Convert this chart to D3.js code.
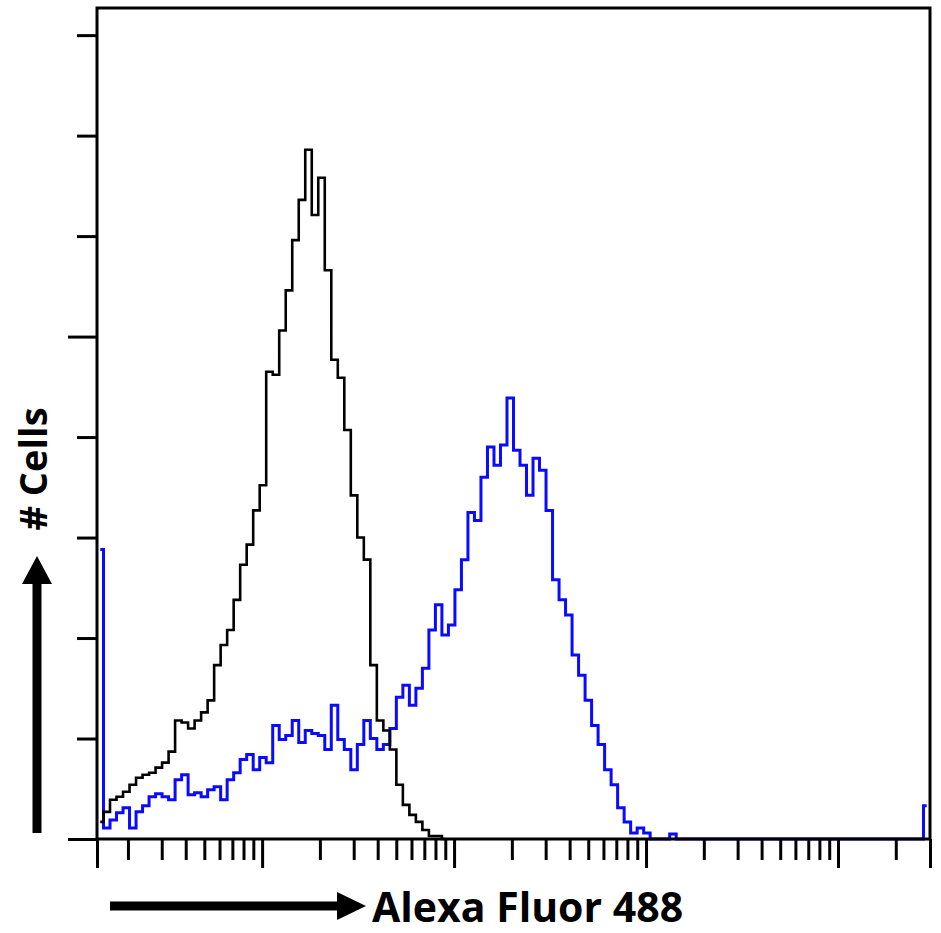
<!DOCTYPE html>
<html>
<head>
<meta charset="utf-8">
<script src="https://cdn.jsdelivr.net/npm/d3@7"></script>
<style>
  body { margin: 0; background: #fff; }
  svg { display: block; }
</style>
</head>
<body>
<div id="chart"></div>
<script>
// histogram, 128 channels spread over the log axis
const channelCount = 128;
const fluorDomain = [1.38, 30150];
const countMax = 827;
const minorCountTicks = [100, 200, 300, 400, 600, 700, 800];
const majorCountTicks = [0, 500];
const majorFluorTicks = [1.38, 10, 100, 1000, 10000, 30150];

const xLabel = "Alexa Fluor 488";
const yLabel = "# Cells";

// control (black)
const controlCounts = [
  17, 27, 39, 42, 47, 54, 61, 64, 66, 71,
  76, 87, 118, 116, 110, 118, 126, 138, 173, 193,
  208, 238, 273, 293, 327, 352, 465, 462, 506, 546,
  596, 636, 686, 621, 658, 566, 477, 459, 407, 342,
  300, 278, 173, 118, 108, 89, 54, 34, 24, 17,
  9, 3, 3, 0
];

// stained (blue)
const stainedCounts = [
  288, 11, 19, 26, 31, 11, 27, 33, 42, 45,
  42, 39, 59, 64, 44, 46, 42, 49, 52, 39,
  59, 66, 79, 84, 69, 81, 76, 113, 99, 103,
  118, 96, 108, 105, 103, 89, 133, 99, 89, 69,
  94, 118, 100, 89, 94, 110, 141, 153, 133, 150,
  170, 208, 233, 203, 213, 248, 278, 325, 317, 360,
  390, 372, 392, 439, 387, 372, 342, 379, 367, 327,
  258, 238, 223, 183, 163, 138, 113, 94, 69, 54,
  31, 17, 6, 11, 6, 0, 0, 0, 5, 0,
  0, 0, 0, 0, 0, 0, 0, 0, 0, 0,
  0, 0, 0, 0, 0, 0, 0, 0, 0, 0,
  0, 0, 0, 0, 0, 0, 0, 0, 0, 0,
  0, 0, 0, 0, 0, 0, 0, 33
];

const margin = { top: 8, right: 11, bottom: 94, left: 97 };
const width = 941 - margin.left - margin.right;
const height = 933 - margin.top - margin.bottom;
const fontFamily = "'Open Sans', 'DejaVu Sans', sans-serif";

const svg = d3.select("#chart")
  .append("svg")
  .attr("width", 941)
  .attr("height", 933)
  .style("background-color", "#fff");

const chart = svg.append("g")
  .attr("transform", "translate(" + margin.left + "," + margin.top + ")");

const xChan = d3.scaleLinear()
  .domain([0, channelCount])
  .range([0, width]);

const xLog = d3.scaleLog()
  .domain(fluorDomain)
  .range([0, width]);

const yScale = d3.scaleLinear()
  .domain([0, countMax])
  .range([height, 0]);

const histLine = d3.line()
  .x((d, i) => xChan(i + 0.5))
  .y(d => yScale(d))
  .curve(d3.curveStep);

chart.append("path")
  .datum(stainedCounts)
  .attr("fill", "none")
  .attr("stroke", "#0a0aff")
  .attr("stroke-width", 3)
  .attr("d", histLine);

chart.append("path")
  .datum(controlCounts)
  .attr("fill", "none")
  .attr("stroke", "#000")
  .attr("stroke-width", 2.6)
  .attr("d", histLine);

// frame
chart.append("rect")
  .attr("x", 0)
  .attr("y", 0)
  .attr("width", width)
  .attr("height", height)
  .attr("fill", "none")
  .attr("stroke", "#000")
  .attr("stroke-width", 3);

function styleAxis(g) {
  g.select(".domain").remove();
  g.selectAll(".tick line").attr("stroke", "#000").attr("stroke-width", 3);
  g.selectAll(".tick text").remove();
}

const minorFluorTicks = xLog.ticks()
  .filter(v => majorFluorTicks.indexOf(v) < 0 && v < 30000);

chart.append("g")
  .attr("transform", "translate(0," + height + ")")
  .call(d3.axisBottom(xLog).tickValues(minorFluorTicks).tickSize(21))
  .call(styleAxis);

chart.append("g")
  .attr("transform", "translate(0," + height + ")")
  .call(d3.axisBottom(xLog).tickValues(majorFluorTicks).tickSize(29))
  .call(styleAxis);

chart.append("g")
  .call(d3.axisLeft(yScale).tickValues(minorCountTicks).tickSize(20))
  .call(styleAxis);

chart.append("g")
  .call(d3.axisLeft(yScale).tickValues(majorCountTicks).tickSize(29))
  .call(styleAxis);

// axis arrows and titles
svg.append("path")
  .attr("d", "M32.5,833 V584 H22 L37,556 L52,584 H41.5 V833 Z")
  .attr("fill", "#000");

svg.append("path")
  .attr("d", "M110,901.5 H337 V892 L366,906 L337,920 V910.5 H110 Z")
  .attr("fill", "#000");

svg.append("text")
  .attr("x", 372)
  .attr("y", 922)
  .style("font-family", fontFamily)
  .style("font-weight", "bold")
  .style("font-size", "41px")
  .style("fill", "#000")
  .text(xLabel);

svg.append("text")
  .attr("transform", "translate(47,469) rotate(-90)")
  .attr("text-anchor", "middle")
  .style("font-family", fontFamily)
  .style("font-weight", "bold")
  .style("font-size", "38px")
  .style("fill", "#000")
  .text(yLabel);
</script>
</body>
</html>
